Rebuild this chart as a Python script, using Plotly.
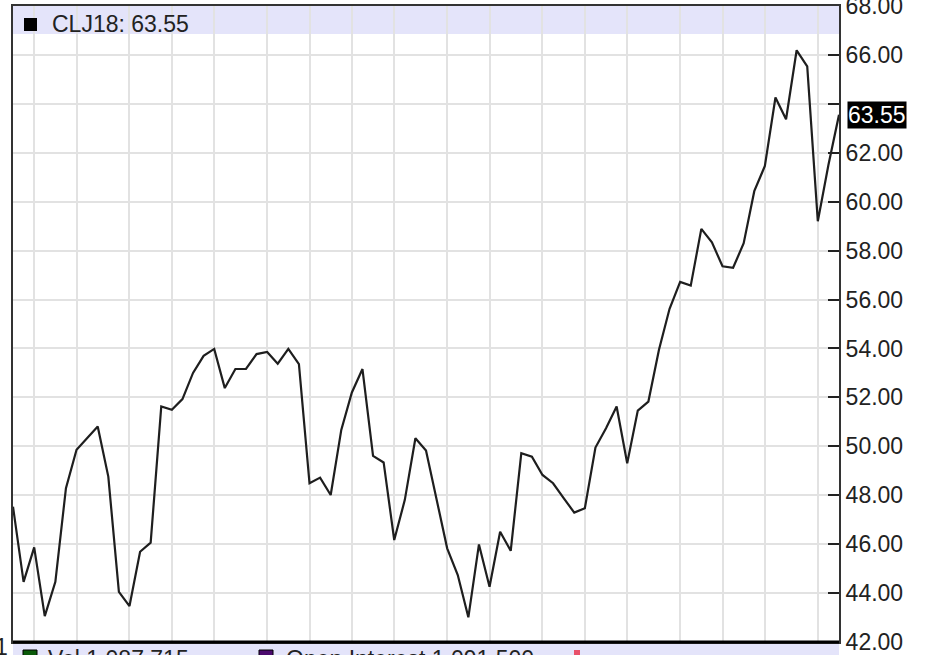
import plotly.graph_objects as go
import pandas as pd

symbol = "CLJ18"
last_value = 63.55

# weekly closes (week starting Monday), Aug 2016 .. Feb 2018
closes = [
    47.53, 44.46, 45.87, 43.06, 44.46, 48.29, 49.86, 50.35, 50.81, 48.76,
    44.05, 43.47, 45.69, 46.06, 51.63, 51.49, 51.93, 53.00, 53.70, 53.98,
    52.38, 53.16, 53.16, 53.77, 53.86, 53.38, 53.98, 53.36, 48.49, 48.72,
    48.01, 50.67, 52.20, 53.16, 49.61, 49.34, 46.17, 47.81, 50.33, 49.83,
    47.81, 45.83, 44.74, 43.01, 45.99, 44.26, 46.51, 45.73, 49.72, 49.58,
    48.83, 48.49, 47.88, 47.29, 47.47, 49.95, 50.74, 51.63, 49.31, 51.46,
    51.83, 53.95, 55.62, 56.72, 56.57, 58.89, 58.34, 57.36, 57.30, 58.30,
    60.43, 61.46, 64.26, 63.37, 66.19, 65.53, 59.20, 61.50, 63.55,
]
first_week = "2016-08-22"
week_start = pd.date_range(first_week, periods=len(closes), freq="W-MON")
month_lines = [d for d in week_start if d.day <= 7]

y_ticks = [42, 44, 46, 48, 50, 52, 54, 56, 58, 60, 62, 64, 66, 68]
y_ticktext = ["" if v == 64 else f"{v:.2f}" for v in y_ticks]

volume_label = "Vol 1,087,715"
oi_label = "Open Interest 1,091,500"

FONT = "Liberation Sans, Arial, sans-serif"
W, H = 925, 655
L, R, T, B = 13, 86, 6, 13
PW = W - L - R
PH = H - T - B


def px_x(x):
    return (x - L) / PW


def px_y(y):
    return (H - B - y) / PH


fig = go.Figure()
fig.add_trace(go.Scatter(
    x=week_start, y=closes, mode="lines",
    line=dict(color="#1e1e1e", width=2.2), hoverinfo="skip", showlegend=False,
))

band = "#E4E4FA"
shapes = [
    dict(type="rect", xref="paper", yref="paper", x0=0, x1=1,
         y0=px_y(34), y1=1, fillcolor=band, line_width=0, layer="below"),
    dict(type="rect", xref="paper", yref="paper", x0=0, x1=1,
         y0=px_y(644), y1=px_y(680), fillcolor=band, line_width=0, layer="below"),
    dict(type="line", xref="paper", yref="paper", x0=0, x1=1,
         y0=0, y1=0, line=dict(color="#000000", width=3)),
    dict(type="rect", xref="paper", yref="paper", x0=px_x(24), x1=px_x(37),
         y0=px_y(31), y1=px_y(18), fillcolor="#000000", line_width=0),
    dict(type="rect", xref="paper", yref="paper", x0=px_x(23), x1=px_x(37),
         y0=px_y(664), y1=px_y(650), fillcolor="#0a5a0a", line=dict(color="#000", width=1)),
    dict(type="rect", xref="paper", yref="paper", x0=px_x(259), x1=px_x(273),
         y0=px_y(664), y1=px_y(650), fillcolor="#4b0a6e", line=dict(color="#000", width=1)),
    dict(type="rect", xref="paper", yref="paper", x0=px_x(574), x1=px_x(580),
         y0=px_y(664), y1=px_y(650), fillcolor="#e8506a", line_width=0),
]

annotations = [
    dict(xref="paper", yref="paper", x=px_x(50), y=px_y(24), xanchor="left", yanchor="middle",
         text=f"{symbol}: {last_value:.2f}", showarrow=False,
         font=dict(family=FONT, size=23, color="#222")),
    dict(xref="paper", yref="y", x=px_x(847), y=last_value, xanchor="left", yanchor="middle",
         text=f"{last_value:.2f}", showarrow=False, bgcolor="#000000", borderpad=0,
         font=dict(family=FONT, size=23, color="#ffffff")),
    dict(xref="paper", yref="paper", x=px_x(46), y=px_y(644), xanchor="left", yanchor="top",
         text=volume_label, showarrow=False, font=dict(family=FONT, size=23, color="#222")),
    dict(xref="paper", yref="paper", x=px_x(284), y=px_y(644), xanchor="left", yanchor="top",
         text=oi_label, showarrow=False, font=dict(family=FONT, size=23, color="#222")),
    dict(xref="paper", yref="paper", x=px_x(10), y=px_y(632), xanchor="right", yanchor="top",
         text="1", showarrow=False, font=dict(family=FONT, size=23, color="#222")),
]

grid = "#E2E2E2"
fig.update_layout(
    width=W, height=H, autosize=False,
    margin=dict(l=L, r=R, t=T, b=B, pad=0, autoexpand=False),
    paper_bgcolor="white", plot_bgcolor="white",
    shapes=shapes, annotations=annotations,
    xaxis=dict(type="date", range=[week_start[0], week_start[-1]],
               tickvals=month_lines, showticklabels=False, ticks="",
               showgrid=True, gridcolor=grid, gridwidth=2, zeroline=False,
               showline=True, mirror=True, linecolor="#333", linewidth=2,
               automargin=False),
    yaxis=dict(side="right", range=[42, 68], tickvals=y_ticks, ticktext=y_ticktext,
               ticks="inside", ticklen=11, tickwidth=2, tickcolor="#222",
               ticklabeloverflow="allow", automargin=False,
               showgrid=True, gridcolor=grid, gridwidth=2, zeroline=False,
               showline=True, mirror=True, linecolor="#333", linewidth=2,
               tickfont=dict(family=FONT, size=23, color="#222")),
)

fig.write_html("out.html", config={"displayModeBar": False},
               post_script="document.body.style.margin='0';document.body.style.overflow='hidden';")
